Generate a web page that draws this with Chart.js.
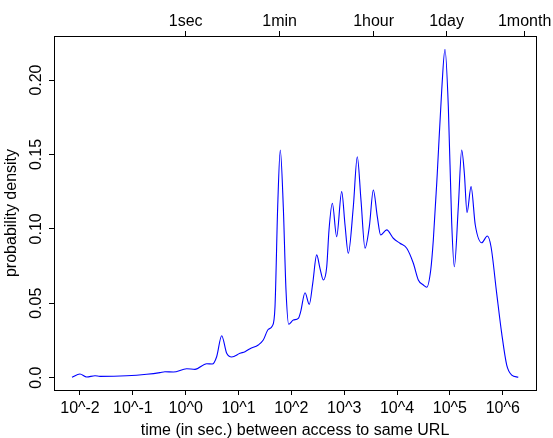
<!DOCTYPE html>
<html>
<head>
<meta charset="utf-8">
<script src="https://cdn.jsdelivr.net/npm/chart.js@4.4.1/dist/chart.umd.min.js"></script>
<style>
  html, body { margin: 0; padding: 0; background: #fff; }
  #c { display: block; }
</style>
</head>
<body>
<canvas id="c" width="553" height="438"></canvas>
<script>
// log10 of time (seconds) between accesses
const logTime = [
  -2.152, -2.001, -1.874, -1.716, -1.622, -1.117, -0.738, -0.487, -0.392, -0.234,
   0.019,  0.176,  0.397,  0.504,  0.586,  0.681,  0.776,  0.871,  1.027,  1.122,
   1.217,  1.374,  1.468,  1.563,  1.639,  1.690,  1.741,  1.790,  1.847,  1.898,
   1.949,  2.037,  2.131,  2.176,  2.258,  2.339,  2.404,  2.479,  2.541,  2.604,
   2.669,  2.712,  2.775,  2.857,  2.952,  3.015,  3.077,  3.172,  3.247,  3.317,
   3.393,  3.475,  3.551,  3.626,  3.690,  3.804,  3.929,  4.055,  4.183,  4.308,
   4.402,  4.497,  4.561,  4.637,  4.686,  4.761,  4.845,  4.907,  4.970,  5.034,
   5.083,  5.159,  5.223,  5.273,  5.324,  5.400,  5.480,  5.602,  5.708,  5.778,
   5.885,  5.980,  6.075,  6.170,  6.294
];
// probability density
const density = [
  0.0003, 0.0025, 0.0005, 0.0013, 0.0009, 0.0013, 0.0023, 0.0034, 0.0040, 0.0038,
  0.0060, 0.0056, 0.0094, 0.0092, 0.0141, 0.0282, 0.0164, 0.0139, 0.0164, 0.0175,
  0.0195, 0.0220, 0.0253, 0.0325, 0.0347, 0.0477, 0.1149, 0.1530, 0.1149, 0.0589,
  0.0359, 0.0388, 0.0399, 0.0444, 0.0571, 0.0493, 0.0634, 0.0825, 0.0735, 0.0657,
  0.0746, 0.0993, 0.1172, 0.0948, 0.1250, 0.1026, 0.0836, 0.1149, 0.1485, 0.1194,
  0.0870, 0.1015, 0.1261, 0.1082, 0.0959, 0.0993, 0.0937, 0.0903, 0.0870, 0.0769,
  0.0657, 0.0623, 0.0608, 0.0724, 0.0925, 0.1374, 0.1933, 0.2207, 0.1821, 0.1038,
  0.0746, 0.1149, 0.1530, 0.1374, 0.1109, 0.1284, 0.1026, 0.0907, 0.0952, 0.0880,
  0.0567, 0.0298, 0.0085, 0.0018, 0.0003
];

const bottomTickExponents = [-2, -1, 0, 1, 2, 3, 4, 5, 6];
const bottomTickLabels = ['10^-2', '10^-1', '10^0', '10^1', '10^2', '10^3', '10^4', '10^5', '10^6'];
const topTickSeconds = [1, 60, 3600, 86400, 2592000];
const topTickLabels = ['1sec', '1min', '1hour', '1day', '1month'];
const yTickValues = [0, 0.05, 0.10, 0.15, 0.20];
const yTickLabels = ['0.0', '0.05', '0.10', '0.15', '0.20'];

const FONT_FAMILY = '"Liberation Sans", Arial, Helvetica, sans-serif';
const font = { family: FONT_FAMILY, size: 16 };
const X_MIN = -2.492, X_MAX = 6.629;
const Y_MIN = -0.00826, Y_MAX = 0.2296;

const points = logTime.map((x, i) => ({ x: x, y: density[i] }));

const rStyle = {
  id: 'rStyle',
  afterDraw(chart) {
    const { ctx, chartArea: a, scales } = chart;
    ctx.save();
    ctx.strokeStyle = '#000';
    ctx.lineWidth = 1;
    ctx.strokeRect(Math.round(a.left) + 0.5, Math.round(a.top) + 0.5,
                   Math.round(a.right - a.left), Math.round(a.bottom - a.top));
    ctx.font = '16px ' + FONT_FAMILY;
    ctx.fillStyle = '#000';
    ctx.textAlign = 'center';
    ctx.textBaseline = 'middle';
    yTickValues.forEach((v, i) => {
      const py = scales.y.getPixelForValue(v);
      ctx.save();
      ctx.translate(a.left - 17, py);
      ctx.rotate(-Math.PI / 2);
      ctx.fillText(yTickLabels[i], 0, 0);
      ctx.restore();
    });
    ctx.restore();
  }
};

const gridStyle = { drawOnChartArea: false, drawTicks: true, tickLength: 5, color: '#000', lineWidth: 1 };
const borderStyle = { display: true, color: '#000', width: 1 };

new Chart(document.getElementById('c'), {
  type: 'line',
  data: {
    datasets: [{
      data: points,
      borderColor: '#0000ff',
      borderWidth: 1.1,
      pointRadius: 0,
      fill: false,
      cubicInterpolationMode: 'monotone',
      xAxisID: 'x',
      yAxisID: 'y'
    }]
  },
  options: {
    responsive: false,
    animation: false,
    devicePixelRatio: 1,
    layout: { padding: { left: 0, right: 17, top: 0, bottom: 0 } },
    plugins: { legend: { display: false }, tooltip: { enabled: false } },
    scales: {
      x: {
        type: 'linear', position: 'bottom', min: X_MIN, max: X_MAX,
        afterBuildTicks: (s) => { s.ticks = bottomTickExponents.map(v => ({ value: v })); },
        ticks: { autoSkip: false, maxRotation: 0, minRotation: 0, padding: 4, color: '#000', font: font,
                 callback: (v, i) => bottomTickLabels[i] },
        grid: gridStyle,
        border: borderStyle,
        title: { display: true, text: 'time (in sec.) between access to same URL', color: '#000', font: font,
                 padding: { top: 0, bottom: -2 } },
        afterFit: (s) => { s.height = 48; }
      },
      xTop: {
        type: 'linear', position: 'top', min: X_MIN, max: X_MAX,
        afterBuildTicks: (s) => { s.ticks = topTickSeconds.map(v => ({ value: Math.log10(v) })); },
        ticks: { autoSkip: false, maxRotation: 0, minRotation: 0, padding: 0, color: '#000', font: font,
                 callback: (v, i) => topTickLabels[i] },
        grid: gridStyle,
        border: borderStyle,
        afterFit: (s) => { s.height = 36; }
      },
      y: {
        type: 'linear', position: 'left', min: Y_MIN, max: Y_MAX,
        afterBuildTicks: (s) => { s.ticks = yTickValues.map(v => ({ value: v })); },
        ticks: { display: false },
        grid: gridStyle,
        border: borderStyle,
        title: { display: true, text: 'probability density', color: '#000', font: font,
                 padding: { top: 2, bottom: 0 } },
        afterFit: (s) => { s.width = 54; }
      }
    }
  },
  plugins: [rStyle]
});
</script>
</body>
</html>
